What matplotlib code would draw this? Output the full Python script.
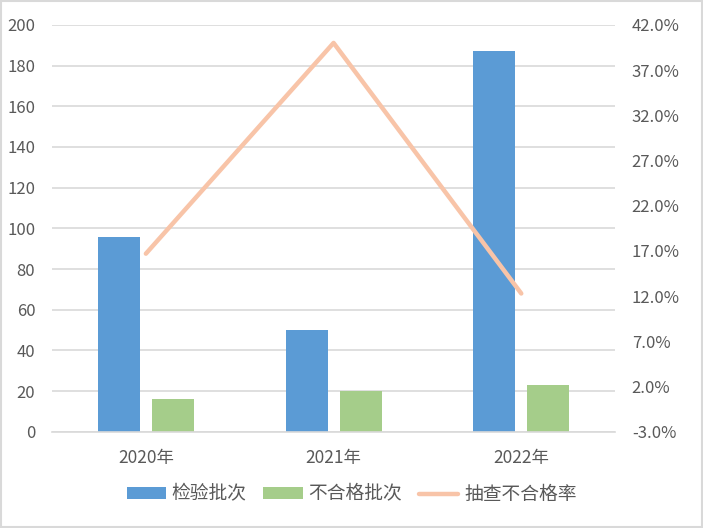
import matplotlib
matplotlib.use("Agg")
import matplotlib.pyplot as plt
from matplotlib.patches import Rectangle
import numpy as np

plt.rcParams['font.family'] = ['Noto Sans CJK SC', 'DejaVu Sans']

categories = ["2020年", "2021年", "2022年"]
inspected = [96, 50, 187]
failed = [16, 20, 23]
rate = [16.7, 40.0, 12.3]
series_names = ["检验批次", "不合格批次", "抽查不合格率"]

blue = "#5B9BD5"
green = "#A5CD8A"
orange = "#F8C4A8"
txt = "#595959"
grid = "#D9D9D9"

fig = plt.figure(figsize=(7.03, 5.28), dpi=100)
fig.patches.append(Rectangle((0.0015, 0.002), 0.997, 0.996, transform=fig.transFigure,
                             fill=False, edgecolor="#D9D9D9", linewidth=1.5))
ax = fig.add_axes([0.074, 0.182, 0.801, 0.771])
x = np.arange(len(categories))
w = 0.224
off = 0.144
ax.bar(x - off, inspected, w, color=blue, label=series_names[0], zorder=2)
ax.bar(x + off, failed, w, color=green, label=series_names[1], zorder=2)
ax.set_xlim(-0.5, 2.5)
ax.set_ylim(0, 200)
ax.set_yticks(range(0, 201, 20))
ax.yaxis.grid(True, color=grid, linewidth=1.2, zorder=0)
ax.set_axisbelow(True)
for s in ["top", "right", "left"]:
    ax.spines[s].set_visible(False)
ax.spines["bottom"].set_color(grid)
ax.spines["bottom"].set_linewidth(1.2)
ax.tick_params(axis="y", length=0, labelsize=12, labelcolor=txt, pad=12)
ax.tick_params(axis="x", length=0, labelsize=12.5, labelcolor=txt, pad=12)
ax.set_xticks(x)
ax.set_xticklabels(categories)

ax2 = ax.twinx()
ax2.plot(x, rate, color=orange, linewidth=3.2, label=series_names[2], solid_capstyle="round", zorder=3)
ax2.set_ylim(-3, 42)
ax2.set_yticks(np.arange(-3, 42.1, 5))
ax2.set_yticklabels([f"{v:.1f}%" for v in np.arange(-3, 42.1, 5)])
for s in ax2.spines.values():
    s.set_visible(False)
ax2.tick_params(axis="y", length=0, labelsize=12, labelcolor=txt, pad=12)

h1, l1 = ax.get_legend_handles_labels()
h2, l2 = ax2.get_legend_handles_labels()
fig.legend(h1 + h2, l1 + l2, loc="center", bbox_to_anchor=(0.5, 0.064), ncol=3,
           frameon=False, fontsize=13.5, labelcolor=txt, handlelength=2.1,
           handleheight=0.55, columnspacing=0.9, handletextpad=0.3)

fig.savefig("out.png", dpi=100)
